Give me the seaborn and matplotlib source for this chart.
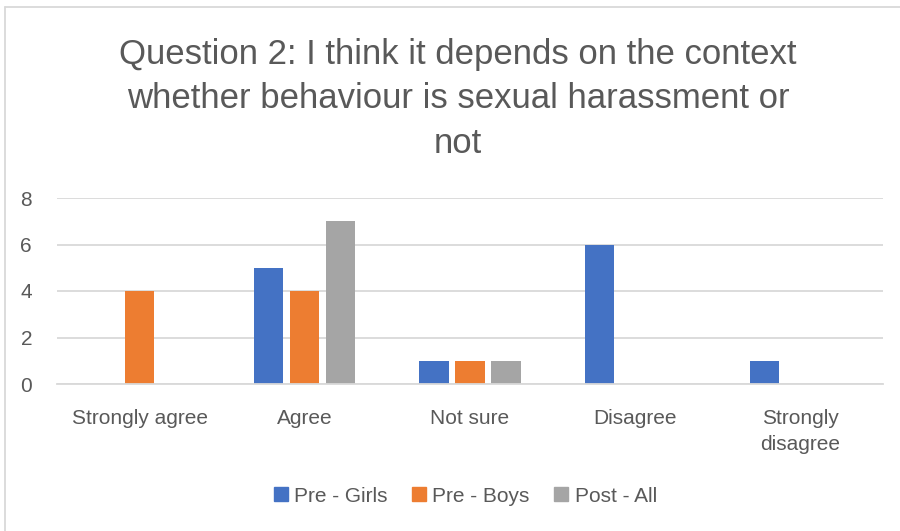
import matplotlib
matplotlib.use("Agg")
import matplotlib.pyplot as plt
import seaborn as sns
import pandas as pd
from matplotlib.lines import Line2D

categories = ["Strongly agree", "Agree", "Not sure", "Disagree", "Strongly\ndisagree"]
series_names = ["Pre-Girls", "Pre-Boys", "Post-All"]
pre_girls = [0, 5, 1, 6, 1]
pre_boys = [4, 4, 1, 0, 0]
post_all = [0, 7, 1, 0, 0]
y_ticks = [0, 2, 4, 6, 8]

colors = ["#4472C4", "#ED7D31", "#A5A5A5"]
text_color = "#595959"

df = pd.DataFrame({
    "category": categories * 3,
    "series": [series_names[0]] * 5 + [series_names[1]] * 5 + [series_names[2]] * 5,
    "value": pre_girls + pre_boys + post_all,
})

sns.set_theme(style="white")
plt.rcParams["font.family"] = ["Liberation Sans", "DejaVu Sans"]

fig = plt.figure(figsize=(9, 5.31), dpi=100)
ax = fig.add_axes([57 / 900, 1 - 384 / 531, 826 / 900, 186 / 531])

sns.barplot(data=df, x="category", y="value", hue="series", order=categories,
            hue_order=series_names, palette=colors, width=0.654, gap=0.19,
            saturation=1, linewidth=0, edgecolor="none", ax=ax, legend=False)

ax.set_ylim(0, 8)
ax.set_xlim(-0.5, 4.5)
ax.set_yticks(y_ticks)
ax.set_yticklabels([str(v) for v in y_ticks])
ax.yaxis.grid(True, color="#D9D9D9", linewidth=1.3)
ax.set_axisbelow(True)
for s in ["top", "right", "left"]:
    ax.spines[s].set_visible(False)
ax.spines["bottom"].set_color("#D9D9D9")
ax.spines["bottom"].set_linewidth(1.3)
ax.set_xlabel("")
ax.set_ylabel("")
ax.tick_params(axis="both", length=0, labelsize=15, labelcolor=text_color)
ax.tick_params(axis="x", pad=18)
ax.tick_params(axis="y", pad=18)
for lbl in ax.get_xticklabels():
    lbl.set_verticalalignment("top")
    lbl.set_linespacing(1.45)

fig.text(0.509, 1 - 99 / 531,
         "Question 2: I think it depends on the context\nwhether behaviour is sexual harassment or\nnot",
         ha="center", va="center", fontsize=25, color=text_color, linespacing=1.45)

handles = [Line2D([0], [0], marker="s", linestyle="", markersize=10,
                  markerfacecolor=c, markeredgecolor=c) for c in colors]
fig.legend(handles, ["Pre - Girls", "Pre - Boys", "Post - All"], loc="center",
           bbox_to_anchor=(0.515, 1 - 496 / 531), ncol=3, frameon=False,
           fontsize=15, labelcolor=text_color, handletextpad=0.15,
           columnspacing=1.0, handlelength=1.0)

# chart frame
fig.add_artist(Line2D([5 / 900, 5 / 900], [0, 1 - 7 / 531], transform=fig.transFigure,
                      color="#D9D9D9", linewidth=1.3))
fig.add_artist(Line2D([5 / 900, 1], [1 - 7 / 531, 1 - 7 / 531], transform=fig.transFigure,
                      color="#D9D9D9", linewidth=1.3))

fig.savefig("out.png", dpi=100, facecolor="white")
